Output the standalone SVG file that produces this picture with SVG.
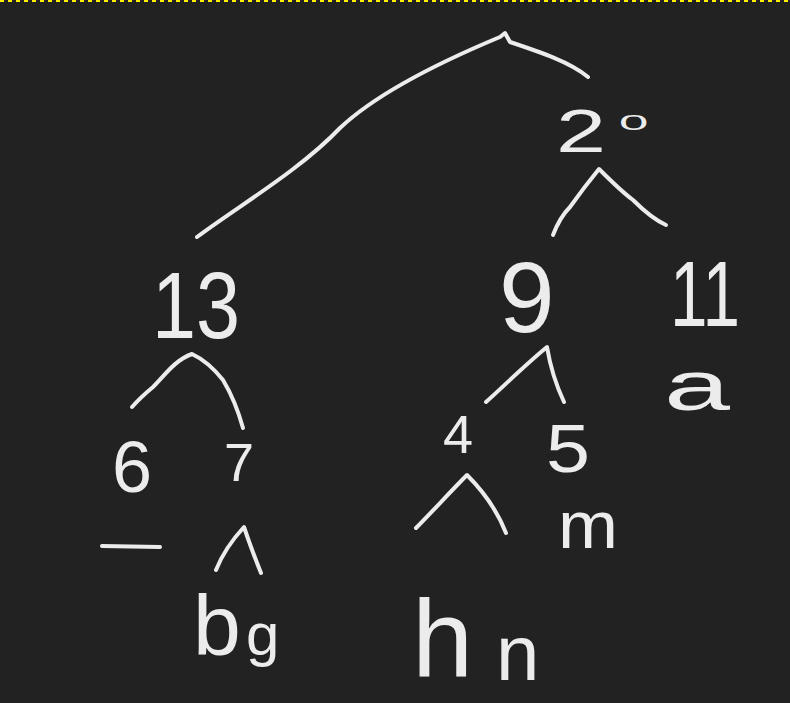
<svg xmlns="http://www.w3.org/2000/svg" width="790" height="703" viewBox="0 0 790 703">
<style>
.bg{fill:#222222}
.lbl{font-family:"Liberation Sans",Arial,sans-serif;fill:#ececec}
.edge{fill:none;stroke:#ececec;stroke-width:4;stroke-linecap:round;stroke-linejoin:round}
.border{stroke:#ffee00;stroke-width:2;stroke-dasharray:4 4}
</style>
<rect class="bg" x="0" y="0" width="790" height="703"/>
<line class="border" x1="0" y1="1" x2="790" y2="1"/>
<g id="connectors">
<path class="edge" d="M197,237 C240,205 300,170 340,128 C375,95 440,62 500,37 L505,33 L510,42 C540,52 570,62 588,77"/>
<path class="edge" d="M553,235 C558,222 565,212 570,207 C580,193 590,180 599,169 C612,182 622,192 633,200 C645,212 655,220 666,225"/>
<path class="edge" d="M132,407 C140,398 147,392 153,387 C165,375 175,360 192,354 C205,360 215,370 223,380 C232,395 238,410 243,428"/>
<path class="edge" d="M486,402 C505,385 525,365 547,347 C550,365 556,385 564,402"/>
<path class="edge" d="M216,570 C222,555 232,540 244,527 C250,545 255,558 261,573"/>
<path class="edge" d="M102,546 L160,547"/>
<path class="edge" d="M416,528 C432,512 450,492 467,475 C482,490 497,510 506,533"/>
</g>
<g id="n20"><text class="lbl" x="556" y="152" font-size="62" textLength="50" lengthAdjust="spacingAndGlyphs">2</text><text class="lbl" font-size="24" transform="translate(619,130) scale(2.2,0.95)">0</text></g>
<g id="n13"><text class="lbl" x="152" y="338" font-size="94" textLength="88" lengthAdjust="spacingAndGlyphs">13</text></g>
<g id="n9"><text class="lbl" x="499" y="332" font-size="100">9</text></g>
<g id="n11"><text class="lbl" x="670" y="326" font-size="92" textLength="70" lengthAdjust="spacingAndGlyphs">11</text></g>
<g id="na"><text class="lbl" x="664" y="410" font-size="70" textLength="66" lengthAdjust="spacingAndGlyphs">a</text></g>
<g id="n6"><text class="lbl" x="112" y="492" font-size="72">6</text></g>
<g id="n7"><text class="lbl" x="224" y="481" font-size="54">7</text></g>
<g id="nbg"><text class="lbl" font-size="86"><tspan x="193" y="655">b</tspan><tspan x="246" y="655" font-size="60">g</tspan></text></g>
<g id="n4"><text class="lbl" x="443" y="453" font-size="54">4</text></g>
<g id="n5"><text class="lbl" x="546" y="472" font-size="68" textLength="44" lengthAdjust="spacingAndGlyphs">5</text></g>
<g id="nm"><text class="lbl" x="558" y="548" font-size="66" textLength="60" lengthAdjust="spacingAndGlyphs">m</text></g>
<g id="nhn"><text class="lbl"><tspan x="412" y="676" font-size="110">h</tspan><tspan x="496" y="680" font-size="78">n</tspan></text></g>
</svg>
